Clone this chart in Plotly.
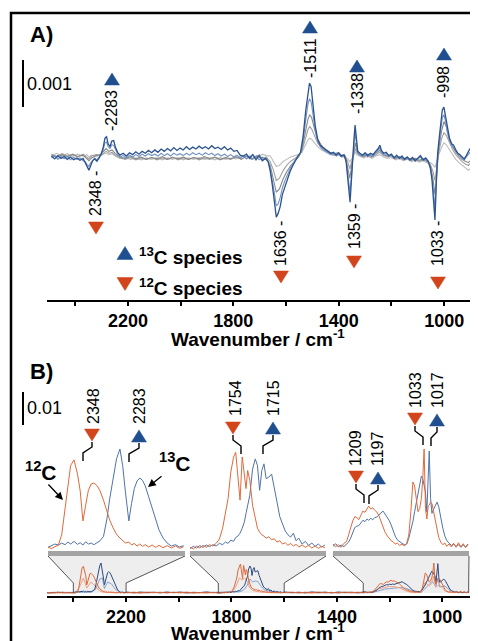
import plotly.graph_objects as go

# The page body adds an 8 px margin; lay the figure out in reference-pixel
# coordinates and compensate for that offset.
OFF = 8
W, H = 478 - OFF, 641 - OFF
def px(x): return (x - OFF) / W
def py(y): return 1 - (y - OFF) / H

FONT = "Liberation Sans, Arial, sans-serif"
BLUE_T = "#1f4f8f"
ORANGE_T = "#d2441b"

# ---------------- Panel A data (absorbance, units of 1e-5) ----------------
wnA = [2490, 2478, 2466, 2454, 2442, 2430, 2418, 2406, 2394, 2382,
       2370, 2362, 2355, 2348, 2341, 2334, 2326, 2318, 2310, 2302,
       2294, 2287, 2281, 2275, 2268, 2261, 2254, 2247, 2239, 2230,
       2218, 2206, 2194, 2182, 2170, 2158, 2146, 2134, 2122, 2110,
       2098, 2086, 2074, 2062, 2050, 2038, 2026, 2014, 2002, 1990,
       1978, 1966, 1954, 1942, 1930, 1918, 1906, 1894, 1882, 1870,
       1858, 1846, 1834, 1822, 1810, 1798, 1786, 1774, 1762, 1750,
       1738, 1726, 1714, 1702, 1690, 1678, 1668, 1660, 1652, 1644,
       1637, 1630, 1622, 1614, 1604, 1594, 1584, 1574, 1564, 1555,
       1545, 1535, 1525, 1517, 1511, 1505, 1497, 1489, 1480, 1470,
       1460, 1450, 1440, 1430, 1420, 1410, 1400, 1390, 1380, 1372,
       1366, 1361, 1357, 1352, 1347, 1342, 1338, 1334, 1328, 1320,
       1310, 1300, 1290, 1280, 1270, 1260, 1250, 1244, 1238, 1230,
       1220, 1210, 1200, 1190, 1180, 1170, 1160, 1150, 1140, 1130,
       1120, 1110, 1100, 1090, 1080, 1070, 1060, 1052, 1046, 1040,
       1035, 1030, 1025, 1019, 1013, 1007, 1001, 995, 988, 980,
       972, 964, 956, 948, 940, 932, 924, 916, 908, 902]
a_dark = [2, -4, 3, -3, 1, -5, 0, -6, -2, -7,
          -3, -12, -20, -28, -18, -8, -4, -9, -3, 6,
          20, 40, 43, 28, 22, 34, 35, 20, 10, 4,
          8, 2, 9, 5, 11, 6, 12, 8, 14, 9,
          15, 10, 17, 12, 18, 13, 20, 14, 19, 15,
          22, 16, 21, 17, 23, 18, 22, 17, 24, 18,
          21, 16, 22, 15, 19, 12, 14, 4, 2, 6,
          -3, 5, -6, 4, -8, -3, -10, -30, -60, -95,
          -128, -120, -105, -80, -62, -45, -30, -18, -6, 2,
          10, 45, 100, 140, 157, 150, 110, 65, 38, 25,
          20, 15, 12, 8, 10, 4, 9, 2, 5, -10,
          -45, -85, -96, -50, 5, 40, 68, 45, 12, 8,
          4, 9, 3, 8, 5, 12, 18, 25, 14, 8,
          10, 3, 6, -2, 4, -3, 2, -5, 0, -6,
          -1, -8, -2, 3, -6, -2, -9, -25, -50, -90,
          -134, -60, 5, 40, 75, 100, 106, 88, 60, 40,
          28, 25, 15, 8, 5, 0, -4, 3, 10, 18]
a_mid = [-2, 3, -5, 1, -4, 2, -6, -1, -5, -2,
         -8, -10, -16, -20, -12, -6, -2, -6, 0, 5,
         15, 30, 32, 22, 18, 26, 25, 14, 6, 0,
         3, -2, 4, 0, 5, 1, 6, 2, 7, 3,
         6, 2, 8, 3, 7, 2, 8, 4, 7, 3,
         8, 4, 9, 5, 8, 4, 9, 5, 8, 3,
         7, 2, 6, 1, 5, 0, 4, -2, 3, -4,
         2, -5, 1, -6, 0, -5, -9, -24, -48, -78,
         -104, -100, -86, -66, -50, -36, -24, -14, -5, 1,
         8, 36, 80, 112, 124, 118, 88, 55, 32, 22,
         16, 12, 9, 5, 8, 2, 6, 0, 3, -8,
         -36, -68, -76, -40, 3, 30, 52, 35, 8, 5,
         1, 6, 0, 5, 2, 9, 14, 19, 10, 5,
         7, 1, 4, -3, 2, -4, 0, -6, -2, -7,
         -3, -9, -4, 0, -8, -4, -10, -22, -42, -75,
         -108, -50, 2, 32, 62, 84, 90, 76, 52, 35,
         26, 20, 12, 6, 3, -3, -6, 0, 5, 10]
wnG = [2490, 2470, 2450, 2430, 2410, 2390, 2370, 2355, 2348, 2338,
       2320, 2302, 2290, 2283, 2272, 2260, 2248, 2230, 2210, 2190,
       2170, 2150, 2130, 2110, 2090, 2070, 2050, 2030, 2010, 1990,
       1970, 1950, 1930, 1910, 1890, 1870, 1850, 1830, 1810, 1790,
       1770, 1750, 1730, 1710, 1690, 1675, 1660, 1648, 1637, 1625,
       1612, 1598, 1582, 1566, 1552, 1540, 1527, 1517, 1510, 1503,
       1492, 1480, 1465, 1450, 1435, 1420, 1405, 1390, 1375, 1366,
       1358, 1350, 1343, 1337, 1330, 1320, 1305, 1290, 1275, 1260,
       1245, 1230, 1215, 1200, 1185, 1170, 1155, 1140, 1125, 1110,
       1095, 1080, 1065, 1052, 1043, 1035, 1028, 1020, 1010, 1001,
       992, 980, 968, 956, 944, 932, 920, 908, 902]
a_gray1 = [4, -1, 5, 0, 6, 1, 4, -4, -8, -2,
           3, 6, 14, 18, 12, 15, 7, 0, -3, 1,
           -4, 0, -5, -1, -4, 1, -5, -1, -4, 0,
           -5, -1, -4, 1, -3, 0, -5, -1, -4, 1,
           -5, 2, -4, 3, -6, -2, -18, -45, -75, -68,
           -48, -32, -18, -8, 0, 15, 50, 80, 90, 84,
           60, 38, 24, 15, 10, 7, 9, 4, 2, -20,
           -45, -15, 10, 30, 12, 5, 2, 6, 1, 8,
           14, 5, 2, 4, -2, 1, -4, -1, -6, -3,
           -7, -4, -8, -20, -45, -80, -30, 20, 55, 75,
           65, 40, 22, 10, 2, -5, -9, -12, -8]
a_gray2 = [6, 1, 7, 2, 5, 0, 6, 0, -4, 2,
           5, 3, 9, 12, 8, 10, 4, -2, -5, -1,
           -6, -2, -5, -1, -6, -2, -5, 0, -6, -2,
           -5, -1, -6, -2, -5, -1, -6, -2, -5, 0,
           -4, 1, -5, 2, -3, 0, -10, -28, -50, -45,
           -30, -18, -9, -3, 2, 12, 38, 58, 65, 60,
           45, 30, 20, 13, 8, 5, 7, 2, 0, -10,
           -25, -8, 6, 18, 8, 3, 0, 4, -1, 5,
           10, 3, 0, 2, -4, -1, -6, -3, -8, -5,
           -9, -6, -10, -16, -30, -50, -18, 12, 38, 52,
           46, 30, 16, 5, -3, -10, -15, -18, -14]
a_gray3 = [3, 8, 2, 7, 1, 6, 2, 5, 0, 4,
           1, 5, 6, 8, 5, 7, 2, -3, -1, -5,
           -2, -6, -2, -5, -1, -6, -2, -5, -1, -6,
           -2, -5, -1, -5, -2, -6, -1, -5, -2, -4,
           2, -3, 4, -1, 6, 3, 2, -8, -20, -18,
           -10, -5, 0, 3, 5, 10, 24, 36, 40, 38,
           30, 22, 15, 10, 6, 3, 5, 1, -1, -4,
           -10, -3, 3, 10, 4, 1, -2, 2, -3, 2,
           5, 0, -3, -1, -6, -3, -8, -5, -10, -7,
           -11, -8, -12, -12, -16, -22, -8, 6, 20, 30,
           26, 16, 5, -5, -12, -18, -24, -28, -25]

# ---------------- Panel B data (absorbance, units of 1e-4) ----------------
zoom_ranges = [(2400, 2200), (1850, 1600), (1300, 900)]
wnB1 = [2400, 2395, 2390, 2385, 2380, 2375, 2371, 2367, 2362, 2357,
        2353, 2349, 2345, 2341, 2337, 2333, 2328, 2324, 2319, 2314,
        2310, 2305, 2300, 2295, 2291, 2287, 2282, 2278, 2274, 2270,
        2266, 2262, 2258, 2253, 2248, 2243, 2238, 2232, 2226, 2220,
        2214, 2208, 2202]
o_b1 = [3, -2, 4, 8, 40, 121, 200, 250, 267, 225,
        173, 82, 130, 175, 194, 197, 188, 173, 145, 112,
        85, 61, 42, 30, 22, 15, 18, 9, 14, 6,
        12, 5, 10, 3, 9, 2, 8, 1, 7, 0,
        6, -1, 4]
b_b1 = [2, 8, 12, 9, 15, 10, 18, 12, 20, 11,
        16, 9, 19, 12, 15, 10, 18, 22, 35, 88,
        148, 215, 270, 300, 250, 170, 82, 135, 180, 203,
        212, 205, 188, 155, 120, 85, 55, 30, 15, 6,
        10, 3, 7]
wnB2 = [1850, 1844, 1838, 1832, 1826, 1820, 1814, 1808, 1802, 1796,
        1790, 1785, 1780, 1775, 1770, 1766, 1762, 1758, 1754, 1750,
        1747, 1744, 1740, 1735, 1730, 1726, 1722, 1718, 1714, 1710,
        1705, 1700, 1695, 1690, 1685, 1680, 1675, 1670, 1665, 1660,
        1655, 1650, 1644, 1638, 1632, 1626, 1620, 1614, 1608, 1602]
o_b2 = [3, -3, 6, 0, 8, 2, 10, 6, 14, 27,
        60, 100, 150, 230, 275, 290, 220, 145, 276, 225,
        180, 235, 205, 130, 85, 60, 48, 40, 36, 30,
        34, 25, 28, 18, 22, 12, 16, 8, 14, 6,
        11, 3, 9, 2, 8, 0, 6, -1, 5, 1]
b_b2 = [-2, 5, 0, 7, 2, 9, 4, 10, 6, 14,
        10, 18, 14, 24, 20, 32, 36, 45, 60, 79,
        105, 130, 160, 239, 270, 250, 175, 235, 255, 210,
        215, 224, 175, 139, 95, 70, 52, 40, 33, 45,
        22, 30, 12, 20, 8, 15, 5, 12, 3, 9]
wnB3 = [1300, 1292, 1284, 1276, 1268, 1260, 1254, 1248, 1242, 1236,
        1230, 1224, 1218, 1212, 1206, 1200, 1195, 1189, 1183, 1177,
        1171, 1165, 1159, 1153, 1147, 1141, 1135, 1129, 1123, 1117,
        1111, 1104, 1097, 1090, 1083, 1077, 1071, 1065, 1060, 1055,
        1050, 1045, 1040, 1036, 1032, 1028, 1024, 1020, 1017, 1013,
        1009, 1004, 999, 994, 989, 983, 977, 971, 965, 959,
        952, 945, 938, 931, 924, 917, 910, 903]
o_b3 = [12, 4, 10, 2, 14, 20, 40, 62, 82, 95,
        92, 86, 100, 112, 108, 118, 127, 118, 122, 114,
        109, 98, 82, 62, 48, 38, 30, 22, 18, 12,
        15, 8, 12, 6, 14, 40, 110, 200, 188, 140,
        110, 120, 150, 210, 300, 120, 88, 127, 130, 139,
        135, 110, 85, 55, 32, 18, 10, 15, 5, 12,
        3, 14, 2, 16, 4, 13, 1, 10]
b_b3 = [5, 13, 3, 9, 4, 12, 18, 30, 48, 62,
        66, 68, 76, 84, 80, 88, 84, 90, 86, 92,
        94, 100, 108, 112, 103, 95, 84, 70, 52, 36,
        25, 18, 14, 10, 12, 30, 52, 80, 110, 140,
        165, 195, 218, 210, 190, 170, 109, 240, 294, 150,
        105, 118, 130, 139, 125, 90, 60, 36, 22, 15,
        8, 12, 4, 10, 2, 9, 3, 12]
# baseline stretches outside the zoomed windows (full spectrum, lower part)
wn_g0 = [2500, 2490, 2480, 2470, 2460, 2450, 2440, 2430, 2420, 2410]
o_g0 = [2, 6, 0, 8, 3, 9, 1, 7, 2, 5]
b_g0 = [5, 0, 7, 2, 9, 4, 8, 1, 6, 3]
wn_g1 = [2195, 2170, 2145, 2120, 2095, 2070, 2045, 2020, 1995, 1970, 1945, 1920, 1895, 1870, 1855]
o_g1 = [3, 8, 1, 9, 4, 7, 0, 8, 3, 9, 2, 6, 1, 7, 3]
b_g1 = [9, 2, 10, 4, 8, 1, 9, 3, 10, 2, 7, 4, 11, 3, 6]
wn_g2 = [1595, 1570, 1545, 1520, 1495, 1470, 1445, 1420, 1395, 1370, 1345, 1320, 1305]
o_g2 = [4, 9, 1, 8, 3, 10, 2, 7, 0, 9, 3, 8, 5]
b_g2 = [10, 3, 8, 2, 11, 4, 9, 1, 10, 5, 8, 2, 7]
# weaker (earlier) spectra in the lower full-range view
wnL = [2500, 2420, 2390, 2375, 2362, 2349, 2333, 2315, 2300, 2290,
       2282, 2270, 2255, 2240, 2220, 2150, 2050, 1950, 1850, 1800,
       1785, 1770, 1760, 1750, 1740, 1730, 1720, 1710, 1700, 1690,
       1675, 1650, 1600, 1500, 1400, 1300, 1260, 1240, 1220, 1200,
       1180, 1160, 1140, 1120, 1100, 1080, 1065, 1050, 1040, 1032,
       1025, 1017, 1010, 1000, 990, 975, 955, 930, 900]
o_weak = [0, 5, 3, 70, 150, 50, 110, 65, 20, 10,
          6, 4, 8, 2, 5, 0, 6, 0, 4, 5,
          55, 150, 130, 150, 115, 50, 25, 18, 12, 10,
          6, 3, 5, 0, 5, 2, 12, 45, 55, 65,
          62, 50, 22, 8, 4, 10, 110, 70, 95, 170,
          55, 75, 78, 55, 20, 6, 4, 8, 3]
b_weak = [3, 6, 8, 8, 10, 7, 9, 40, 140, 150,
          45, 110, 90, 35, 6, 3, 7, 2, 5, 6,
          10, 12, 20, 40, 80, 140, 110, 120, 115, 75,
          30, 15, 4, 2, 6, 3, 8, 25, 38, 44,
          46, 55, 48, 26, 8, 6, 42, 85, 115, 100,
          60, 150, 60, 66, 70, 35, 10, 5, 7]

tick_vals = [2400, 2200, 2000, 1800, 1600, 1400, 1200, 1000]
tick_text = ["", "2200", "", "1800", "", "1400", "", "1000"]
A_up = [2283, 1511, 1338, 998]
A_down = [2348, 1636, 1359, 1033]
B_peaks = [2348, 2283, 1754, 1715, 1209, 1197, 1033, 1017]
B_species = ["12C", "13C", "12C", "13C", "12C", "13C", "12C", "13C"]

UA = 1e-5
UB = 1e-4
fig = go.Figure()

def add(x, y, xa, ya, color, width=1.1):
    fig.add_trace(go.Scatter(x=list(x), y=list(y), xaxis=xa, yaxis=ya, mode="lines",
                             line=dict(color=color, width=width), hoverinfo="skip",
                             showlegend=False))

# Panel A
add(wnG, [v * UA for v in a_gray3], "x", "y", "#bdbdbd", 1.1)
add(wnG, [v * UA for v in a_gray2], "x", "y", "#a2a2a2", 1.1)
add(wnG, [v * UA for v in a_gray1], "x", "y", "#888888", 1.1)
add(wnA, [v * UA for v in a_mid], "x", "y", "#7393c2", 1.1)
add(wnA, [v * UA for v in a_dark], "x", "y", "#2c5390", 1.3)

# Panel B lower (full range)
full_wn = wn_g0 + wnB1 + wn_g1 + wnB2 + wn_g2 + wnB3
full_o = o_g0 + o_b1 + o_g1 + o_b2 + o_g2 + o_b3
full_b = b_g0 + b_b1 + b_g1 + b_b2 + b_g2 + b_b3
add(wnL, [v * UB for v in b_weak], "x2", "y2", "#86a3cc", 1.0)
add(wnL, [v * UB for v in o_weak], "x2", "y2", "#eea07e", 1.0)
add(full_wn, [v * UB for v in full_b], "x2", "y2", "#2d4b80", 1.0)
add(full_wn, [v * UB for v in full_o], "x2", "y2", "#e0683a", 1.0)

# Panel B upper (zoomed windows)
for xa, wn, o, b in (("x3", wnB1, o_b1, b_b1), ("x4", wnB2, o_b2, b_b2), ("x5", wnB3, o_b3, b_b3)):
    add(wn, [v * UB for v in b], xa, "y3", "#4f73a9", 1.0)
    add(wn, [v * UB for v in o], xa, "y3", "#e2693b", 1.0)

# ---------------- axes ----------------
A_base, A_per_px = 157, 0.001 / 47
B_base_up, B_up_per_px = 548, 0.01 / 33
B_base_lo, B_lo_per_px = 593, 0.001

xstyle = dict(showline=True, linecolor="black", linewidth=1.5, ticks="outside", ticklen=4,
              tickwidth=1.5, tickcolor="black", tickvals=tick_vals, ticktext=tick_text,
              tickfont=dict(family=FONT, size=18, color="black", weight="bold"),
              showgrid=False, zeroline=False, fixedrange=True)
hid = dict(visible=False, showgrid=False, zeroline=False, fixedrange=True)
seg_dom = [(48, 185), (190, 326), (333, 469)]

fig.update_layout(
    width=W, height=H, autosize=False, margin=dict(l=0, r=0, t=0, b=0),
    paper_bgcolor="white", plot_bgcolor="rgba(0,0,0,0)", showlegend=False,
    xaxis=dict(domain=[px(47), px(470)], range=[2507, 902], anchor="y", **xstyle),
    yaxis=dict(domain=[py(300), py(20)],
               range=[(A_base - 300) * A_per_px, (A_base - 20) * A_per_px], anchor="x", **hid),
    xaxis2=dict(domain=[px(47), px(470)], range=[2500, 895], anchor="y2", **xstyle),
    yaxis2=dict(domain=[py(596), py(556)],
                range=[(B_base_lo - 596) * B_lo_per_px, (B_base_lo - 556) * B_lo_per_px], anchor="x2", **hid),
    xaxis3=dict(domain=[px(seg_dom[0][0]), px(seg_dom[0][1])], range=list(zoom_ranges[0]), anchor="y3", **hid),
    xaxis4=dict(domain=[px(seg_dom[1][0]), px(seg_dom[1][1])], range=list(zoom_ranges[1]), anchor="y3", **hid),
    xaxis5=dict(domain=[px(seg_dom[2][0]), px(seg_dom[2][1])], range=list(zoom_ranges[2]), anchor="y3", **hid),
    yaxis3=dict(domain=[py(556), py(380)],
                range=[(B_base_up - 556) * B_up_per_px, (B_base_up - 380) * B_up_per_px], anchor="x3", **hid),
)

# ---------------- decorations ----------------
shapes = []
annotations = []

def path_of(pts, close=False):
    s = "M" + " L".join(f"{px(a):.5f},{py(b):.5f}" for a, b in pts)
    return s + (" Z" if close else "")

def tri(cx, cy, up, color, w=15, h=12):
    if up:
        pts = [(cx - w / 2, cy + h / 2), (cx + w / 2, cy + h / 2), (cx, cy - h / 2)]
    else:
        pts = [(cx - w / 2, cy - h / 2), (cx + w / 2, cy - h / 2), (cx, cy + h / 2)]
    shapes.append(dict(type="path", xref="paper", yref="paper", path=path_of(pts, True),
                       fillcolor=color, line=dict(color=color, width=0.5)))

def polyline(pts, color="black", width=1.4):
    shapes.append(dict(type="path", xref="paper", yref="paper", path=path_of(pts),
                       fillcolor="rgba(0,0,0,0)", line=dict(color=color, width=width)))

def text(x, y, t, size, angle=0, xanchor="center", bold=False):
    if bold:
        t = "<b>" + t + "</b>"
    annotations.append(dict(x=px(x), y=py(y), xref="paper", yref="paper", text=t, showarrow=False,
                            textangle=angle, xanchor=xanchor, yanchor="middle",
                            font=dict(family=FONT, size=size, color="black")))

# outer frame
shapes.append(dict(type="rect", xref="paper", yref="paper", x0=px(11), y0=py(13), x1=px(495), y1=py(660),
                   line=dict(color="black", width=2.5), fillcolor="rgba(0,0,0,0)"))
# scale bars
shapes.append(dict(type="line", xref="paper", yref="paper", x0=px(23), x1=px(23), y0=py(60), y1=py(107),
                   line=dict(color="black", width=2)))
shapes.append(dict(type="line", xref="paper", yref="paper", x0=px(23), x1=px(23), y0=py(392), y1=py(425),
                   line=dict(color="black", width=2)))

# zoom connectors
def x2px(w):
    return 47 + (2500 - w) / (2500 - 895) * 423
for (w0, w1), (d0, d1) in zip(zoom_ranges, seg_dom):
    xl, xr = x2px(w0), x2px(w1)
    shapes.append(dict(type="path", xref="paper", yref="paper", layer="below",
                       path=path_of([(d0, 556), (d1, 556), (xr, 583), (xr, 593), (xl, 593), (xl, 583)], True),
                       fillcolor="#eeeeee", line=dict(width=0)))
    polyline([(d0, 556), (xl, 583), (xl, 593)], "#555555", 1)
    polyline([(d1, 556), (xr, 583), (xr, 593)], "#555555", 1)
    shapes.append(dict(type="rect", xref="paper", yref="paper", x0=px(d0), x1=px(d1), y0=py(556), y1=py(551),
                       fillcolor="#a4a4a4", line=dict(width=0)))

# Panel A labels
A_up_pos = {2283: (112, 79, 111), 1511: (310, 27, 58), 1338: (357, 66, 94), 998: (444, 54, 82)}
A_down_pos = {2348: (96, 228, 194), 1636: (281, 277, 244), 1359: (354, 262, 227), 1033: (438, 283, 244)}
for w in A_up:
    x, ty, ly = A_up_pos[w]
    tri(x, ty, True, BLUE_T)
    text(x, ly, "-" + str(w), 16, angle=-90)
for w in A_down:
    x, ty, ly = A_down_pos[w]
    tri(x, ty, False, ORANGE_T)
    text(x, ly, str(w) + " -", 16, angle=-90)

text(41, 35, "A)", 22, bold=True)
text(25, 84, "0.001", 18, xanchor="left")
tri(125, 253, True, BLUE_T, 16, 13)
tri(125, 284, False, ORANGE_T, 16, 13)
text(137, 256, "<sup>13</sup>C species", 19, xanchor="left", bold=True)
text(137, 287, "<sup>12</sup>C species", 19, xanchor="left", bold=True)
text(258, 338, "Wavenumber / cm<sup>-1</sup>", 19, bold=True)

# Panel B labels
B_pos = {2348: (93, 406, 92, 435, 83), 2283: (139, 406, 139, 436, 129),
         1754: (235, 398, 233, 428, 241), 1715: (273, 398, 273, 428, 263),
         1209: (355, 448, 356, 477, 364), 1197: (377, 449, 378, 478, 369),
         1033: (415, 390, 415, 419, 423), 1017: (437, 390, 437, 420, 431)}
for w, sp in zip(B_peaks, B_species):
    lx, ly, tx, ty, ex = B_pos[w]
    up = sp == "13C"
    tri(tx, ty, up, BLUE_T if up else ORANGE_T)
    text(lx, ly, str(w), 16, angle=-90)
    polyline([(tx, ty + 7), (tx, ty + 12), (ex, ty + 18), (ex, ty + 26)], "black", 1.4)

text(41, 371, "B)", 22, bold=True)
text(25, 408, "0.01", 18, xanchor="left")
text(41, 471, "<sup>12</sup>C", 21, bold=True)
text(175, 462, "<sup>13</sup>C", 21, bold=True)
annotations.append(dict(x=px(63), y=py(500), xref="paper", yref="paper", ax=-16, ay=-17, text="",
                        showarrow=True, arrowhead=2, arrowsize=1.2, arrowwidth=1.3, arrowcolor="black"))
annotations.append(dict(x=px(148), y=py(487), xref="paper", yref="paper", ax=15, ay=-12, text="",
                        showarrow=True, arrowhead=2, arrowsize=1.2, arrowwidth=1.3, arrowcolor="black"))
text(258, 632, "Wavenumber / cm<sup>-1</sup>", 19, bold=True)

fig.update_layout(shapes=shapes, annotations=annotations)
fig.write_html("out.html")
